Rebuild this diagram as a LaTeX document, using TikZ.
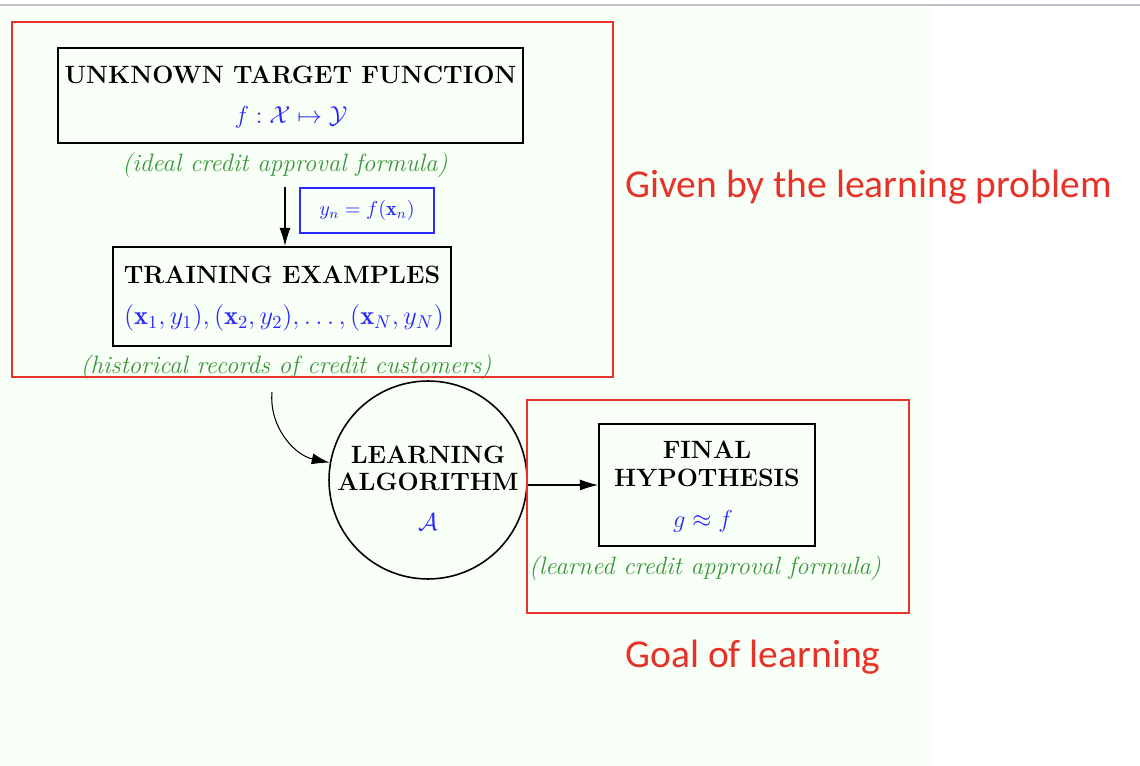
\RequirePackage{fix-cm}
\documentclass[tikz,border=0pt]{standalone}
\usepackage{amsmath,amssymb}
\usepackage{fontspec}
\newfontfamily\calib{Carlito}
\usetikzlibrary{arrows.meta}
\definecolor{myred}{RGB}{230,50,40}
\definecolor{mygreen}{RGB}{60,150,60}
\definecolor{myblue}{RGB}{40,40,255}
\definecolor{bgreen}{RGB}{248,255,246}
\definecolor{topgray}{RGB}{190,190,200}
\tikzset{
 frame/.style={draw=black, line width=1.2pt, inner sep=0pt},
 ttl/.style={font=\fontsize{14.25}{16}\selectfont\bfseries, inner sep=0pt},
 mth/.style={text=myblue, font=\fontsize{14}{16}\selectfont, inner sep=0pt},
 note/.style={text=mygreen, font=\fontsize{14.25}{16}\selectfont\itshape, inner sep=0pt},
 redframe/.style={draw=myred, line width=1.6pt},
 redlabel/.style={text=myred, font=\fontsize{22.5}{26}\selectfont\calib, inner sep=0pt, anchor=west},
 arr/.style={-{Latex[length=3.6mm,width=2.2mm]}, line width=0.6pt},
}
\begin{document}
\begin{tikzpicture}[x=0.02cm,y=-0.02cm]
\useasboundingbox (0,0) rectangle (1140,766);
\fill[white] (0,0) rectangle (1140,766);
\fill[bgreen] (0,7) rectangle (931,766);
\draw[topgray, line width=1.2pt] (0,5) -- (1140,5);
% target function
\node[frame, minimum width=9.3cm, minimum height=1.9cm] (utf) at (290.5,95.5) {};
\node[ttl] (utft) at (290.5,75) {UNKNOWN TARGET FUNCTION};
\node[mth] (utfm) at (291,117) {$f:\mathcal{X}\mapsto\mathcal{Y}$};
\node[note] (ideal) at (285,165) {(ideal credit approval formula)};
% training examples
\node[frame, minimum width=6.76cm, minimum height=1.98cm] (train) at (282,296.5) {};
\node[ttl] (traint) at (282,275) {TRAINING EXAMPLES};
\node[mth, font=\fontsize{15}{17}\selectfont] (trainm) at (284,318) {$(\mathbf{x}_1,y_1),(\mathbf{x}_2,y_2),\ldots,(\mathbf{x}_N,y_N)$};
\node[note] (hist) at (286,367) {(historical records of credit customers)};
% yn box
\node[draw=myblue, line width=0.6pt, minimum width=2.68cm, minimum height=0.9cm, inner sep=0pt, text=myblue, font=\fontsize{11.5}{13}\selectfont] (yn) at (367,210.5) {$y_n=f(\mathbf{x}_n)$};
\draw[arr] (ideal.south) ++(0,9) coordinate (a1) -- (a1 |- train.north);
% learning algorithm
\node[draw, circle, line width=0.9pt, minimum size=3.96cm, inner sep=0pt] (alg) at (428,480) {};
\node[ttl] (algt1) at (428,455) {LEARNING};
\node[ttl] (algt2) at (428,482) {ALGORITHM};
\node[mth] (algm) at (428,522) {$\mathcal{A}$};
\coordinate (cs) at (272,392);
\draw[arr] (cs) to[out=-95,in=168] (alg.170);
% final hypothesis
\node[frame, minimum width=4.32cm, minimum height=2.44cm] (final) at (707,485) {};
\node[ttl] (finalt1) at (707,450) {FINAL};
\node[ttl] (finalt2) at (707,478) {HYPOTHESIS};
\node[mth] (finalm) at (703,521) {$g\approx f$};
\node[note] (learned) at (705,568) {(learned credit approval formula)};
\draw[arr] (alg.east |- final.west) -- (final.west);
% red frames
\draw[redframe] (12,22) rectangle (613,377);
\draw[redframe] (527,400) rectangle (909,613);
\node[redlabel] (given) at (625,187) {Given by the learning problem};
\node[redlabel] (goal) at (625,657) {Goal of learning};
\end{tikzpicture}
\end{document}
